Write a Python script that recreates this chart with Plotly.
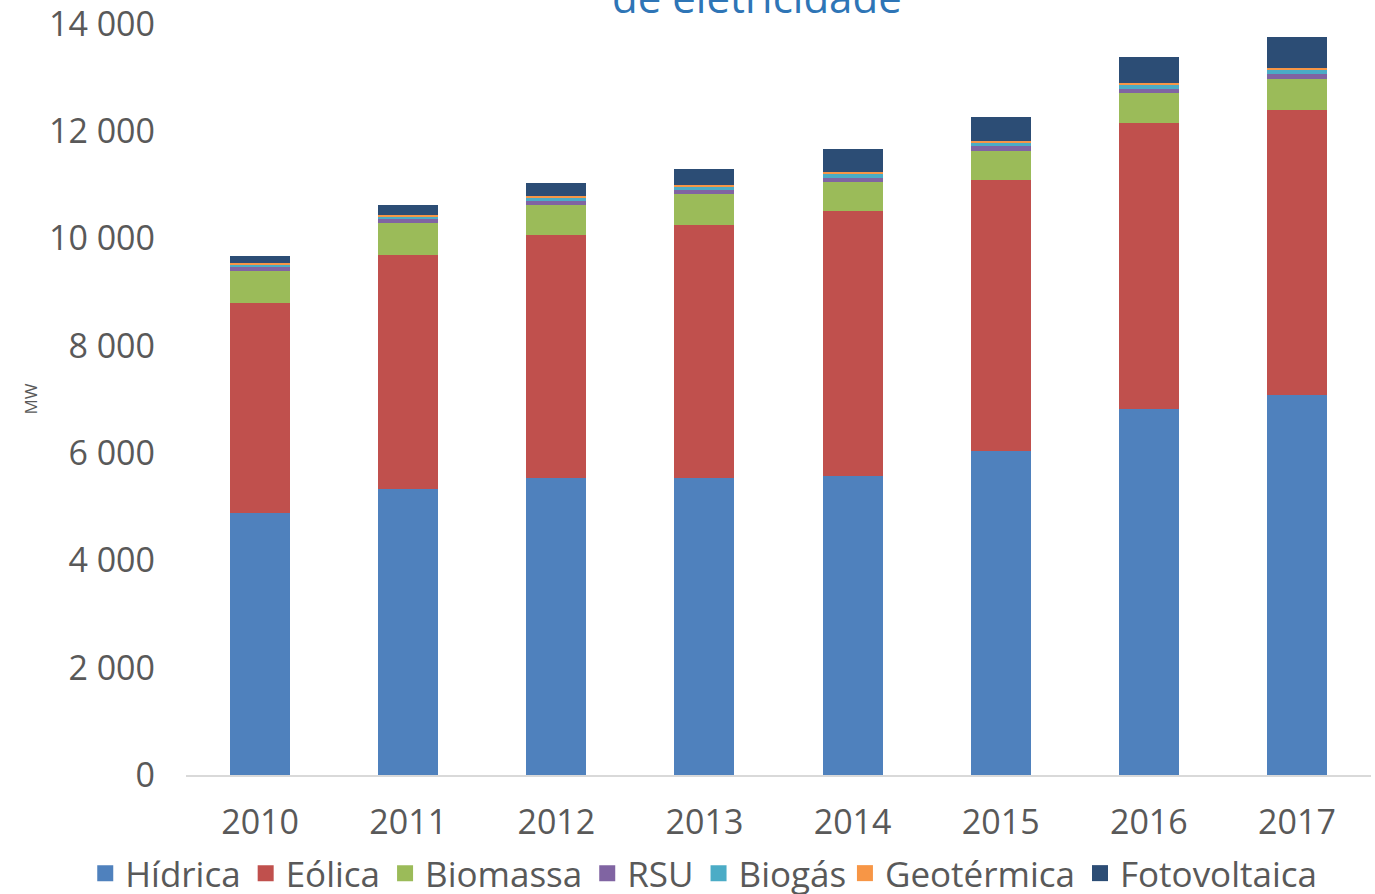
import plotly.graph_objects as go

years = ["2010", "2011", "2012", "2013", "2014", "2015", "2016", "2017"]
hidrica = [4889, 5337, 5542, 5542, 5579, 6046, 6830, 7091]
eolica = [3919, 4366, 4516, 4702, 4927, 5038, 5318, 5299]
biomassa = [584, 579, 565, 579, 546, 547, 559, 592]
rsu = [86, 75, 86, 80, 86, 86, 81, 86]
biogas = [35, 56, 62, 62, 75, 75, 87, 87]
geotermica = [29, 33, 29, 29, 29, 29, 29, 33]
fotovoltaica = [137, 174, 243, 298, 423, 448, 473, 572]

series = [
    ("Hídrica", hidrica, "#4F81BD"),
    ("Eólica", eolica, "#C0504D"),
    ("Biomassa", biomassa, "#9BBB59"),
    ("RSU", rsu, "#8064A2"),
    ("Biogás", biogas, "#4BACC6"),
    ("Geotérmica", geotermica, "#F79646"),
    ("Fotovoltaica", fotovoltaica, "#2C4D75"),
]

font_family = "Open Sans, Lato, sans-serif"
grey = "#595959"

fig = go.Figure()
for name, vals, color in series:
    fig.add_trace(go.Bar(
        x=years, y=vals, name=name, showlegend=False,
        marker=dict(color=color, line=dict(width=0)),
    ))
# legend entries with larger square swatches (split over two legend boxes
# so that the single row does not wrap)
for i, (name, vals, color) in enumerate(series):
    fig.add_trace(go.Scatter(
        x=[None], y=[None], mode="markers", name=name,
        legend="legend" if i < 5 else "legend2",
        marker=dict(symbol="square", size=20, color=color),
    ))

legend_common = dict(
    orientation="h", xref="container", xanchor="left",
    y=-0.131, yanchor="middle",
    font=dict(size=35, color=grey), itemwidth=30, tracegroupgap=0,
    traceorder="normal", itemsizing="trace", bgcolor="rgba(0,0,0,0)",
)

fig.update_layout(
    barmode="stack",
    bargap=0.595,
    width=1375, height=894,
    plot_bgcolor="white", paper_bgcolor="white",
    separators=", ",
    margin=dict(l=186, r=4, t=24, b=119, autoexpand=False),
    font=dict(family=font_family, color=grey, size=34),
    showlegend=True,
    legend=dict(x=0.062, **legend_common),
    legend2=dict(x=0.6145, **legend_common),
    xaxis=dict(
        showline=True, linecolor="#D9D9D9", linewidth=1.5, automargin=False,
        showgrid=False, ticks="", tickfont=dict(size=34, color=grey),
        ticklabelstandoff=16,
    ),
    yaxis=dict(
        range=[0, 14000], dtick=2000, tickformat=",d", automargin=False,
        showgrid=False, showline=False, zeroline=False, ticks="",
        tickfont=dict(size=34, color=grey), ticklabelstandoff=30,
        ticklabeloverflow="allow",
    ),
    annotations=[
        dict(
            text="de eletricidade", xref="paper", yref="paper",
            x=0.482, y=1, yanchor="bottom", yshift=-3, showarrow=False,
            font=dict(size=42, color="#2E75B6", family=font_family),
        ),
        dict(
            text="MW", xref="paper", yref="paper",
            x=-0.1316, y=0.5, xanchor="center", yanchor="middle",
            textangle=-90, showarrow=False,
            font=dict(size=17, color=grey, family=font_family),
        ),
    ],
)

fig.write_html(
    "out.html",
    config={"displayModeBar": False},
    post_script="document.body.style.margin='0';document.body.style.overflow='hidden';",
)
